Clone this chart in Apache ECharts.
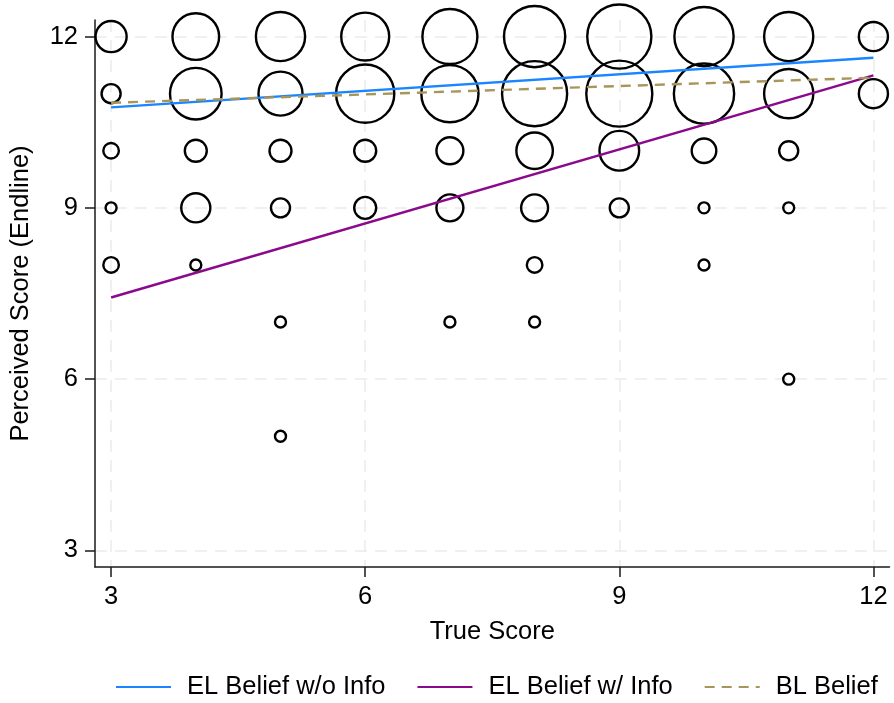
<!DOCTYPE html>
<html>
<head>
<meta charset="utf-8">
<title>Perceived vs True Score</title>
<script src="https://cdn.jsdelivr.net/npm/echarts@6/dist/echarts.min.js"></script>
<style>
  html, body { margin: 0; padding: 0; background: #fff; }
  #chart { width: 894px; height: 703px; }
</style>
</head>
<body>
<div id="chart"></div>
<script>
// Respondent counts at each (true score, perceived endline score) pair
const trueScore = [
  3, 4, 5, 6, 7, 8, 9, 10, 11, 12,
  3, 4, 5, 6, 7, 8, 9, 10, 11, 12,
  3, 4, 5, 6, 7, 8, 9, 10, 11,
  3, 4, 5, 6, 7, 8, 9, 10, 11,
  3, 4, 8, 10,
  5, 7, 8,
  11,
  5
];
const perceivedScore = [
  12, 12, 12, 12, 12, 12, 12, 12, 12, 12,
  11, 11, 11, 11, 11, 11, 11, 11, 11, 11,
  10, 10, 10, 10, 10, 10, 10, 10, 10,
  9, 9, 9, 9, 9, 9, 9, 9, 9,
  8, 8, 8, 8,
  7, 7, 7,
  6,
  5
];
const respondents = [
  8, 18, 20, 19, 25, 31, 34, 29, 20, 7,
  3, 22, 16, 28, 27, 35, 36, 30, 20, 7,
  2, 4, 4, 4, 6, 11, 13, 5, 3,
  1, 7, 3, 4, 6, 6, 3, 1, 1,
  2, 1, 2, 1,
  1, 1, 1,
  1,
  1
];

// Fitted lines, evaluated at the ends of the true-score range
const fitX = [3, 12];
const elBeliefNoInfo = [10.76, 11.63];
const elBeliefInfo = [7.43, 11.32];
const blBelief = [10.84, 11.28];

// Axis ticks
const xTicks = [3, 6, 9, 12];
const yTicks = [3, 6, 9, 12];

const FONT = '"Liberation Sans", Arial, Helvetica, sans-serif';
const FS = 25.5;

const bubbles = trueScore.map((x, i) => [x, perceivedScore[i], respondents[i]]);
const toLine = (ys) => fitX.map((x, i) => [x, ys[i]]);

const gridLine = {
  show: true,
  lineStyle: { color: '#ebebeb', width: 1.5, type: [12, 8] }
};

const chart = echarts.init(document.getElementById('chart'), null, { renderer: 'canvas' });

chart.setOption({
  animation: false,
  backgroundColor: '#ffffff',
  grid: { left: 95, right: 4.5, top: 20, bottom: 136, containLabel: false },
  xAxis: {
    type: 'value',
    min: 2.81,
    max: 12.19,
    name: 'True Score',
    nameLocation: 'middle',
    nameGap: 52,
    nameTextStyle: { fontFamily: FONT, fontSize: FS, color: '#000' },
    axisLine: { show: true, onZero: false, lineStyle: { color: '#1a1a1a', width: 1.5 } },
    axisTick: { show: true, length: 10, customValues: xTicks, lineStyle: { color: '#1a1a1a', width: 1.5 } },
    axisLabel: { customValues: xTicks, margin: 17, fontFamily: FONT, fontSize: FS, color: '#000' },
    splitLine: gridLine
  },
  yAxis: {
    type: 'value',
    min: 2.71,
    max: 12.29,
    name: 'Perceived Score (Endline)',
    nameLocation: 'middle',
    nameGap: 61,
    nameRotate: 90,
    nameTextStyle: { fontFamily: FONT, fontSize: FS, color: '#000' },
    axisLine: { show: true, onZero: false, lineStyle: { color: '#1a1a1a', width: 1.5 } },
    axisTick: { show: true, length: 10, customValues: yTicks, lineStyle: { color: '#1a1a1a', width: 1.5 } },
    axisLabel: { customValues: yTicks, margin: 17, fontFamily: FONT, fontSize: FS, color: '#000' },
    splitLine: gridLine
  },
  legend: {
    left: 110,
    top: 669,
    itemWidth: 55,
    itemHeight: 14,
    itemGap: 31,
    itemStyle: { color: 'rgba(0,0,0,0)', borderWidth: 0 },
    textStyle: { fontFamily: FONT, fontSize: FS, color: '#000', padding: [0, 0, 0, 11] },
    data: ['EL Belief w/o Info', 'EL Belief w/ Info', 'BL Belief']
  },
  series: [
    {
      name: 'Respondents',
      type: 'scatter',
      data: bubbles,
      symbol: 'circle',
      symbolSize: (v) => 11 * Math.sqrt(v[2]),
      itemStyle: { color: 'rgba(0,0,0,0)', borderColor: '#000', borderWidth: 2.4, opacity: 1 },
      emphasis: { disabled: true },
      z: 2
    },
    {
      name: 'EL Belief w/o Info',
      type: 'line',
      data: toLine(elBeliefNoInfo),
      symbol: 'none',
      lineStyle: { color: '#1a85ff', width: 2.4 },
      itemStyle: { color: '#1a85ff' },
      z: 3
    },
    {
      name: 'EL Belief w/ Info',
      type: 'line',
      data: toLine(elBeliefInfo),
      symbol: 'none',
      lineStyle: { color: '#8b0a8b', width: 2.4 },
      itemStyle: { color: '#8b0a8b' },
      z: 3
    },
    {
      name: 'BL Belief',
      type: 'line',
      data: toLine(blBelief),
      symbol: 'none',
      lineStyle: { color: '#a8955a', width: 2.4, type: [10, 7] },
      itemStyle: { color: '#a8955a' },
      z: 3
    }
  ]
});
</script>
</body>
</html>
